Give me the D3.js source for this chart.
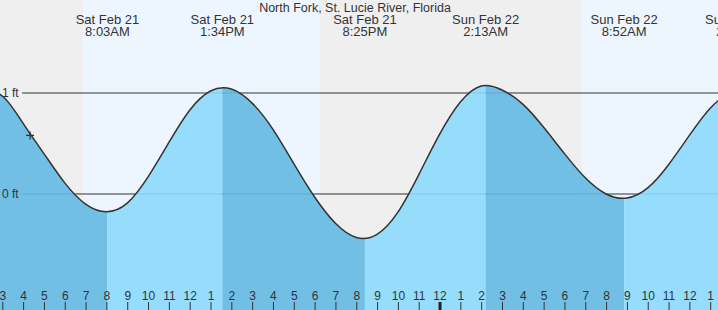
<!DOCTYPE html>
<html>
<head>
<meta charset="utf-8">
<script src="https://cdn.jsdelivr.net/npm/d3@7"></script>
<style>
body { margin: 0; background: #efefef; overflow: hidden; }
svg { display: block; }
text { font-family: 'Liberation Sans', Arial, sans-serif; fill: #333; }
</style>
</head>
<body>
<div class="canvas"></div>
<script>
const title = 'North Fork, St. Lucie River, Florida'

// water level, every hour (ft)
const readingTimes = [
    '2026-02-21T02:00', '2026-02-21T03:00', '2026-02-21T04:00', '2026-02-21T05:00',
    '2026-02-21T06:00', '2026-02-21T07:00', '2026-02-21T08:00', '2026-02-21T09:00',
    '2026-02-21T10:00', '2026-02-21T11:00', '2026-02-21T12:00', '2026-02-21T13:00',
    '2026-02-21T14:00', '2026-02-21T15:00', '2026-02-21T16:00', '2026-02-21T17:00',
    '2026-02-21T18:00', '2026-02-21T19:00', '2026-02-21T20:00', '2026-02-21T21:00',
    '2026-02-21T22:00', '2026-02-21T23:00', '2026-02-22T00:00', '2026-02-22T01:00',
    '2026-02-22T02:00', '2026-02-22T03:00', '2026-02-22T04:00', '2026-02-22T05:00',
    '2026-02-22T06:00', '2026-02-22T07:00', '2026-02-22T08:00', '2026-02-22T09:00',
    '2026-02-22T10:00', '2026-02-22T11:00', '2026-02-22T12:00', '2026-02-22T13:00',
    '2026-02-22T14:00'
]
const readingHeights = [
    1.02, 0.97, 0.70, 0.40, 0.11, -0.10, -0.175, -0.09,
    0.17, 0.51, 0.83, 1.02, 1.04, 0.90, 0.64, 0.30,
    -0.03, -0.29, -0.43, -0.40, -0.18, 0.19, 0.59, 0.91,
    1.07, 1.03, 0.89, 0.66, 0.40, 0.16, 0.00, -0.04,
    0.06, 0.29, 0.58, 0.85, 1.02
]

// high and low tides
const eventTimes = ['2026-02-21T02:05', '2026-02-21T08:03', '2026-02-21T13:34', '2026-02-21T20:25',
    '2026-02-22T02:13', '2026-02-22T08:52', '2026-02-22T14:22']
const eventTypes = ['H', 'L', 'H', 'L', 'H', 'L', 'H']

// daylight
const sunrises = ['2026-02-21T06:53', '2026-02-22T06:50']
const sunsets = ['2026-02-21T18:16', '2026-02-22T18:15']

const levelTicks = [0, 1]

// current time marker
const nowTime = '2026-02-21T04:20'
const nowHeight = 0.58

const width = 718
const height = 310

const parse = d3.timeParse('%Y-%m-%dT%H:%M')
const readings = readingTimes.map((t, i) => ({ time: parse(t), value: readingHeights[i] }))
const events = eventTimes.map((t, i) => ({ time: parse(t), type: eventTypes[i] }))

const svg = d3.select('.canvas').append('svg').attr('width', width).attr('height', height)

const x = d3.scaleTime()
    .domain([parse('2026-02-21T03:00'), parse('2026-02-22T13:00')])
    .range([2.3, 710.2])

const y = d3.scaleLinear()
    .domain([0, 1])
    .range([194, 93])

// night background + day bands
svg.append('rect').attr('width', width).attr('height', height).attr('fill', '#efefef')
svg.selectAll('rect.day')
    .data(sunrises)
    .enter()
    .append('rect')
    .attr('class', 'day')
    .attr('x', (d, i) => x(parse(d)))
    .attr('width', (d, i) => x(parse(sunsets[i])) - x(parse(d)))
    .attr('height', height)
    .attr('fill', '#edf6ff')

// level lines (under the water, show through it)
svg.selectAll('line.level')
    .data(levelTicks)
    .enter()
    .append('line')
    .attr('class', 'level')
    .attr('x1', 22)
    .attr('x2', width)
    .attr('y1', d => y(d))
    .attr('y2', d => y(d))
    .attr('stroke', '#333')
    .attr('stroke-width', 1)

// water
const curve = d3.curveNatural
const area = d3.area().x(d => x(d.time)).y0(height).y1(d => y(d.value)).curve(curve)
const line = d3.line().x(d => x(d.time)).y(d => y(d.value)).curve(curve)

svg.append('clipPath').attr('id', 'water')
    .append('path').attr('d', area(readings))

const bands = events.slice(0, -1).map((e, i) => ({ from: e.time, to: events[i + 1].time, falling: e.type === 'H' }))

svg.append('g')
    .attr('clip-path', 'url(#water)')
    .selectAll('rect')
    .data(bands)
    .enter()
    .append('rect')
    .attr('x', d => x(d.from))
    .attr('width', d => x(d.to) - x(d.from))
    .attr('height', height)
    .attr('fill', d => d.falling ? '#63b9e2' : '#8cdafd')
    .attr('fill-opacity', 0.9)

svg.append('path')
    .attr('d', line(readings))
    .attr('fill', 'none')
    .attr('stroke', '#333')
    .attr('stroke-width', 1.5)

// level labels
svg.selectAll('text.level')
    .data(levelTicks)
    .enter()
    .append('text')
    .attr('class', 'level')
    .attr('x', 2)
    .attr('y', d => y(d) + 4)
    .attr('font-size', 12)
    .text(d => d + ' ft')

// now marker
svg.append('path')
    .attr('transform', `translate(${x(parse(nowTime))}, ${y(nowHeight)})`)
    .attr('d', 'M-4,0H4M0,-4V4')
    .attr('stroke', '#333')
    .attr('stroke-width', 1.2)

// hour axis along the bottom
const xAxisScale = x.copy().domain([x.invert(0), x.invert(width)]).range([0, width])
const xAxis = d3.axisTop(xAxisScale)
    .ticks(d3.timeHour.every(1))
    .tickFormat(d3.timeFormat('%-I'))
    .tickSize(8)
    .tickPadding(2)

const xAxisGroup = svg.append('g').attr('transform', `translate(0, ${height})`).call(xAxis)
xAxisGroup.select('.domain').remove()
xAxisGroup.selectAll('text').attr('font-size', 12).attr('font-family', null).attr('fill', '#333')
xAxisGroup.selectAll('line')
    .attr('stroke', d => d.getHours() === 0 ? '#222' : '#333')
    .attr('stroke-width', d => d.getHours() === 0 ? 3 : 1)

// tide labels
const dayFmt = d3.timeFormat('%a %b %-d')
const clockFmt = d3.timeFormat('%-I:%M%p')
const labels = svg.selectAll('g.event')
    .data(events.slice(1))
    .enter()
    .append('g')
    .attr('class', 'event')
    .attr('transform', d => `translate(${x(d.time)}, 0)`)
labels.append('text').attr('y', 24).attr('text-anchor', 'middle').attr('font-size', 13).text(d => dayFmt(d.time))
labels.append('text').attr('y', 36).attr('text-anchor', 'middle').attr('font-size', 13).text(d => clockFmt(d.time))

svg.append('text')
    .attr('x', 355)
    .attr('y', 12)
    .attr('text-anchor', 'middle')
    .attr('font-size', 12.5)
    .text(title)
</script>
</body>
</html>
